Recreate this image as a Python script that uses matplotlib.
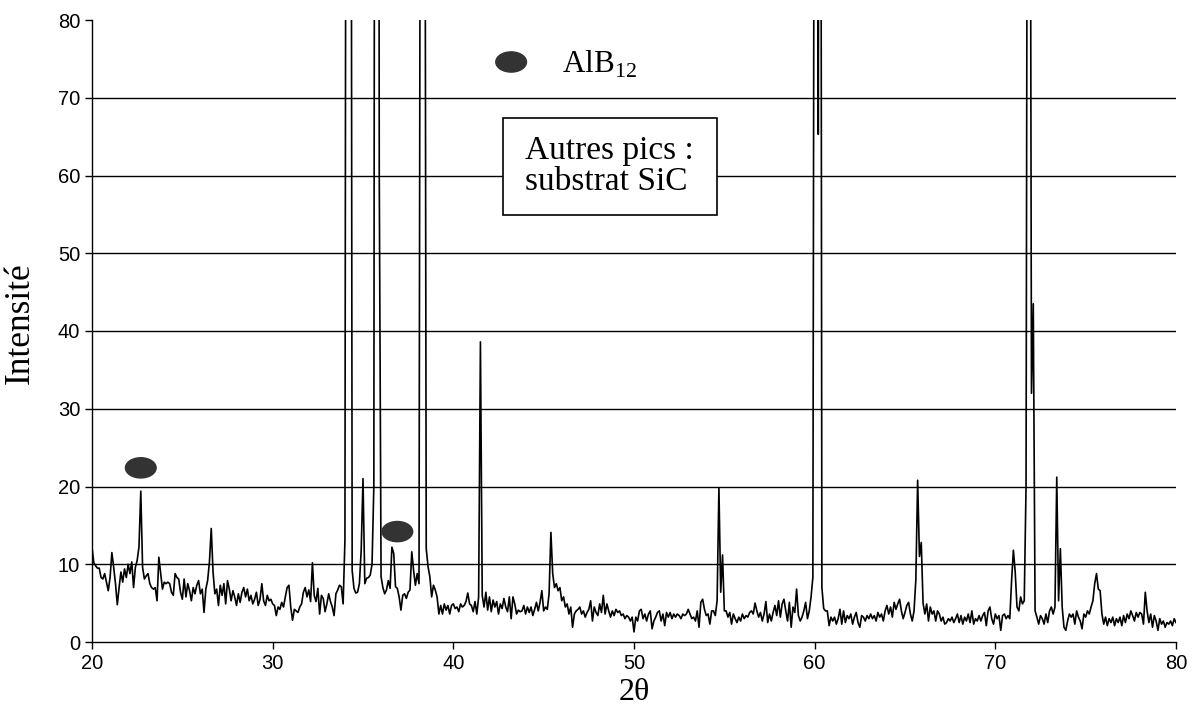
import numpy as np
import matplotlib
matplotlib.use("Agg")
import matplotlib.pyplot as plt
from matplotlib.patches import Ellipse, Rectangle

# XRD pattern, one value every 0.1 deg from 20 to 80
intensity = [
    12.2, 10.2, 9.8, 9.5, 9.5, 8.3, 8.1, 8.8, 7.7, 6.6,      # 20
    8.3, 11.5, 9.6, 7.5, 4.8, 7.0, 9.0, 7.7, 9.4, 8.3,       # 21
    10.0, 8.8, 10.3, 7.0, 9.6, 10.5, 12.2, 19.4, 9.6, 8.1,   # 22
    8.5, 8.8, 7.5, 7.0, 6.8, 7.0, 5.3, 10.9, 8.8, 6.8,       # 23
    7.7, 7.5, 7.7, 7.5, 6.4, 6.0, 8.8, 8.3, 8.1, 6.4,        # 24
    5.5, 8.1, 5.8, 7.5, 6.6, 5.3, 7.0, 6.2, 7.3, 7.9,        # 25
    6.2, 6.8, 3.8, 6.8, 7.9, 10.3, 14.6, 9.0, 6.2, 6.8,      # 26
    4.7, 7.3, 6.0, 7.5, 4.9, 7.9, 6.8, 5.3, 6.6, 5.8,        # 27
    4.7, 6.2, 5.1, 6.4, 7.0, 5.8, 6.8, 5.3, 6.0, 4.9,        # 28
    5.5, 6.4, 4.7, 5.5, 7.5, 5.3, 4.7, 6.0, 5.3, 5.5,        # 29
    4.9, 4.7, 3.4, 4.5, 4.2, 5.1, 4.5, 5.8, 7.0, 7.3,        # 30
    4.5, 2.8, 4.2, 4.0, 3.8, 4.5, 4.9, 6.4, 7.0, 5.8,        # 31
    6.7, 5.2, 10.2, 6.0, 5.2, 6.9, 3.6, 6.0, 5.6, 3.9,       # 32
    4.9, 6.2, 5.2, 4.5, 3.4, 6.2, 6.7, 7.3, 7.1, 4.9,        # 33
    13.1, 200, 300, 200, 9.2, 6.9, 6.3, 6.4, 7.5, 11.8,      # 34
    21.0, 7.5, 8.2, 8.3, 8.6, 10.0, 20.0, 250, 300, 60,      # 35
    8.4, 7.0, 6.2, 6.7, 7.9, 6.9, 12.2, 11.4, 7.1, 6.9,      # 36
    5.8, 4.1, 6.0, 6.2, 5.6, 6.4, 6.7, 11.6, 9.2, 7.3,       # 37
    8.8, 7.5, 150, 300, 150, 12.0, 9.7, 8.4, 5.8, 7.3,       # 38
    6.7, 5.8, 3.6, 4.7, 3.6, 4.9, 4.1, 4.7, 3.6, 4.7,        # 39
    4.9, 4.3, 4.5, 3.9, 4.9, 4.5, 4.7, 5.2, 6.3, 4.9,        # 40
    4.7, 3.9, 5.2, 3.6, 5.8, 38.6, 6.0, 4.5, 6.4, 4.1,       # 41
    5.8, 3.9, 5.4, 4.5, 5.2, 3.6, 4.9, 4.3, 5.6, 4.5,        # 42
    3.9, 5.8, 3.0, 5.8, 4.9, 3.6, 4.1, 3.9, 4.0, 4.7,        # 43
    3.6, 4.5, 3.8, 4.5, 3.4, 4.2, 5.1, 4.0, 5.1, 6.6,        # 44
    4.0, 4.5, 4.2, 6.2, 14.1, 8.8, 7.0, 7.5, 6.6, 7.0,       # 45
    5.3, 5.8, 4.5, 4.9, 3.6, 4.5, 1.9, 3.6, 4.0, 4.2,        # 46
    4.5, 3.6, 4.0, 3.2, 3.8, 4.2, 5.3, 2.7, 4.5, 3.8,        # 47
    3.4, 4.9, 3.8, 6.0, 3.6, 4.9, 4.0, 3.2, 4.0, 3.4,        # 48
    4.2, 3.8, 4.0, 3.4, 3.6, 3.0, 3.4, 3.2, 2.7, 3.2,        # 49
    1.3, 3.2, 2.7, 4.0, 4.2, 3.0, 3.6, 2.7, 3.6, 4.0,        # 50
    1.7, 2.7, 3.2, 3.8, 4.0, 2.7, 3.6, 2.1, 3.8, 3.2,        # 51
    3.8, 3.0, 3.6, 3.2, 3.6, 3.4, 3.0, 3.6, 3.4, 3.6,        # 52
    4.2, 3.6, 3.0, 3.2, 2.7, 4.0, 1.9, 5.1, 5.5, 4.2,        # 53
    3.4, 3.6, 2.3, 4.0, 4.0, 3.4, 5.3, 19.8, 6.4, 11.2,      # 54
    4.0, 4.0, 3.2, 3.8, 2.3, 3.6, 3.0, 2.5, 3.2, 2.7,        # 55
    3.6, 3.0, 3.4, 3.2, 3.8, 4.0, 3.6, 5.0, 4.0, 3.2,        # 56
    3.8, 2.7, 3.6, 5.2, 2.5, 3.6, 2.7, 3.8, 4.7, 3.4,        # 57
    5.3, 3.2, 4.9, 5.5, 4.0, 2.7, 5.1, 1.9, 4.5, 3.8,        # 58
    6.8, 3.4, 2.7, 3.2, 4.0, 5.1, 3.0, 4.0, 5.8, 8.3,        # 59
    150, 200, 65.3, 200, 7.0, 4.3, 4.0, 4.0, 2.1, 3.2,       # 60
    2.7, 3.2, 2.3, 3.0, 4.2, 2.3, 4.0, 2.5, 3.4, 3.0,        # 61
    3.6, 2.3, 3.2, 3.8, 2.5, 1.9, 3.4, 3.2, 2.7, 3.4,        # 62
    3.0, 3.6, 3.0, 3.4, 2.7, 3.8, 3.2, 3.6, 2.7, 4.0,        # 63
    4.7, 3.6, 4.5, 3.2, 5.1, 4.2, 4.9, 5.5, 4.0, 3.0,        # 64
    3.8, 4.7, 5.1, 3.6, 2.7, 4.0, 8.0, 20.8, 11.0, 12.8,     # 65
    5.0, 3.6, 4.9, 2.7, 4.5, 3.6, 4.0, 2.7, 4.0, 3.6,        # 66
    2.7, 3.2, 2.3, 2.5, 3.0, 2.7, 3.2, 2.5, 3.0, 3.6,        # 67
    2.5, 3.4, 2.3, 3.2, 2.7, 3.6, 2.5, 4.0, 2.3, 3.0,        # 68
    2.7, 3.4, 2.7, 3.4, 3.8, 2.1, 4.0, 4.5, 3.0, 2.3,        # 69
    3.6, 3.0, 3.4, 1.5, 3.4, 3.6, 3.0, 3.4, 3.0, 7.9,        # 70
    11.8, 9.0, 4.5, 4.0, 5.8, 4.9, 5.3, 20.0, 150, 150,      # 71
    32.0, 43.5, 4.0, 3.2, 2.3, 3.4, 3.0, 2.3, 3.6, 2.5,      # 72
    4.0, 4.5, 3.6, 4.5, 21.2, 5.3, 12.0, 4.5, 1.9, 1.5,      # 73
    2.7, 3.6, 3.2, 3.6, 2.3, 4.0, 3.2, 2.7, 1.7, 3.6,        # 74
    3.2, 4.0, 3.6, 4.5, 5.3, 7.5, 8.8, 6.8, 6.6, 3.6,        # 75
    2.3, 3.2, 2.1, 3.0, 2.5, 3.2, 2.1, 3.0, 2.5, 3.2,        # 76
    2.1, 3.4, 2.5, 3.6, 3.0, 4.0, 3.4, 2.7, 3.8, 3.2,        # 77
    3.8, 3.6, 2.3, 6.4, 4.0, 2.5, 3.6, 1.9, 3.4, 2.7,        # 78
    1.5, 3.0, 2.3, 2.7, 1.9, 2.5, 2.3, 2.7, 2.1, 3.0,        # 79
    2.5,                                                     # 80
]
two_theta = 20 + 0.1 * np.arange(len(intensity))

# AlB12 peak markers and legend symbol
marker_x = [22.7, 36.9]
marker_y = [22.4, 14.2]
legend_x, legend_y = 43.2, 74.6

x_ticks = [20, 30, 40, 50, 60, 70, 80]
y_ticks = [0, 10, 20, 30, 40, 50, 60, 70, 80]

sans = ["Liberation Sans", "DejaVu Sans"]
serif = ["Liberation Serif", "DejaVu Serif"]

fig = plt.figure(figsize=(12, 7.1), dpi=100)
ax = fig.add_axes([92 / 1200, 68 / 710, 1084 / 1200, 622 / 710])

# horizontal gridlines (no line at the top)
for y in y_ticks[1:-1]:
    ax.axhline(y, color="black", lw=1.0, zorder=1)

ax.plot(two_theta, intensity, color="black", lw=1.2, zorder=3)

ax.set_xlim(20, 80)
ax.set_ylim(0, 80)
ax.set_xticks(x_ticks)
ax.set_yticks(y_ticks)
ax.tick_params(direction="out", length=5, width=1, color="black", labelsize=14.5)
for lab in ax.get_xticklabels() + ax.get_yticklabels():
    lab.set_family(sans)
for side in ["top", "right"]:
    ax.spines[side].set_visible(False)
for side in ["left", "bottom"]:
    ax.spines[side].set_linewidth(1)

for mx, my in zip(marker_x, marker_y):
    ax.add_patch(Ellipse((mx, my), 1.7, 2.6, color="#333333", zorder=4))
ax.add_patch(Ellipse((legend_x, legend_y), 1.7, 2.6, color="#333333", zorder=4))
ax.text(46.0, 74.3, r"AlB$_{\mathregular{12}}$", family=serif, fontsize=22.5,
        va="center", ha="left")

ax.add_patch(Rectangle((42.75, 54.9), 11.84, 12.5, facecolor="white",
                       edgecolor="black", lw=1.2, zorder=5))
ax.text(43.95, 61.2, "Autres pics :\nsubstrat SiC", family=serif, fontsize=24,
        va="center", ha="left", linespacing=1.0, zorder=6)

fig.text(20 / 1200, 1 - 323 / 710, "Intensité", family=serif, fontsize=25.5,
         rotation=90, va="center", ha="center")
fig.text(634 / 1200, 1 - 692 / 710, "2θ", family=serif, fontsize=23,
         va="center", ha="center")

fig.savefig("out.png", dpi=100, facecolor="white")
